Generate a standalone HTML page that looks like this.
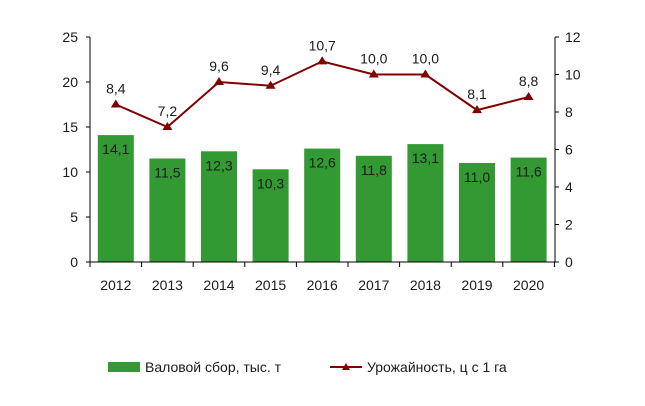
<!DOCTYPE html>
<html><head><meta charset="utf-8"><style>body{margin:0;background:#fff}svg text{font-family:"Liberation Sans",Arial,sans-serif;font-size:14px;fill:#1a1a1a}</style></head><body>
<svg width="645" height="401" xmlns="http://www.w3.org/2000/svg">
<g id="bars" fill="#339933"></g>
<g stroke="#000" stroke-width="1">
<line x1="90" y1="37" x2="90" y2="262"/><line x1="555" y1="37" x2="555" y2="262"/>
<line x1="86" y1="262" x2="559" y2="262"/>
<g id="ticks"></g>
</g>
<g id="labels"></g>
<polyline id="line" fill="none" stroke="#800000" stroke-width="2"/>
<g id="marks" fill="#800000"></g>
<rect x="108" y="362" width="32" height="10" fill="#339933"/>
<text x="145" y="372">Валовой сбор, тыс. т</text>
<line x1="330" y1="367" x2="362" y2="367" stroke="#800000" stroke-width="2"/>
<polygon points="346,363 350,370 342,370" fill="#800000"/>
<text x="367" y="372">Урожайность, ц с 1 га</text>
</svg>
<script>
const ns="http://www.w3.org/2000/svg";
function el(p,t,a,txt){const e=document.createElementNS(ns,t);for(const k in a)e.setAttribute(k,a[k]);if(txt!==undefined)e.textContent=txt;document.getElementById(p).appendChild(e);}
const years=[2012,2013,2014,2015,2016,2017,2018,2019,2020];
const b=[14.1,11.5,12.3,10.3,12.6,11.8,13.1,11.0,11.6];
const l=[8.4,7.2,9.6,9.4,10.7,10.0,10.0,8.1,8.8];
const w=51.6;let pts=[];
for(let i=0;i<=9;i++)el("ticks","line",{x1:90+w*i,y1:262,x2:90+w*i,y2:267});
for(let i=0;i<=5;i++){const y=262-45*i;el("ticks","line",{x1:86,y1:y,x2:90,y2:y});el("labels","text",{x:78,y:y+5,"text-anchor":"end"},String(5*i));}
for(let i=0;i<=6;i++){const y=262-37.5*i;el("ticks","line",{x1:555,y1:y,x2:559,y2:y});el("labels","text",{x:565,y:y+5},String(2*i));}
years.forEach((yr,i)=>{const c=90+w/2+w*i;const t=262-b[i]*9;
el("bars","rect",{x:c-18,y:t,width:36,height:262-t});
el("labels","text",{x:c,y:t+19,"text-anchor":"middle"},b[i].toFixed(1).replace(".",","));
el("labels","text",{x:c,y:290,"text-anchor":"middle"},String(yr));
const ly=262-l[i]*18.75;pts.push(c+","+ly);
el("marks","polygon",{points:`${c},${ly-5} ${c+5},${ly+3} ${c-5},${ly+3}`});
el("labels","text",{x:c,y:ly-11,"text-anchor":"middle"},l[i].toFixed(1).replace(".",","));
});
document.getElementById("line").setAttribute("points",pts.join(" "));
</script>
</body></html>
